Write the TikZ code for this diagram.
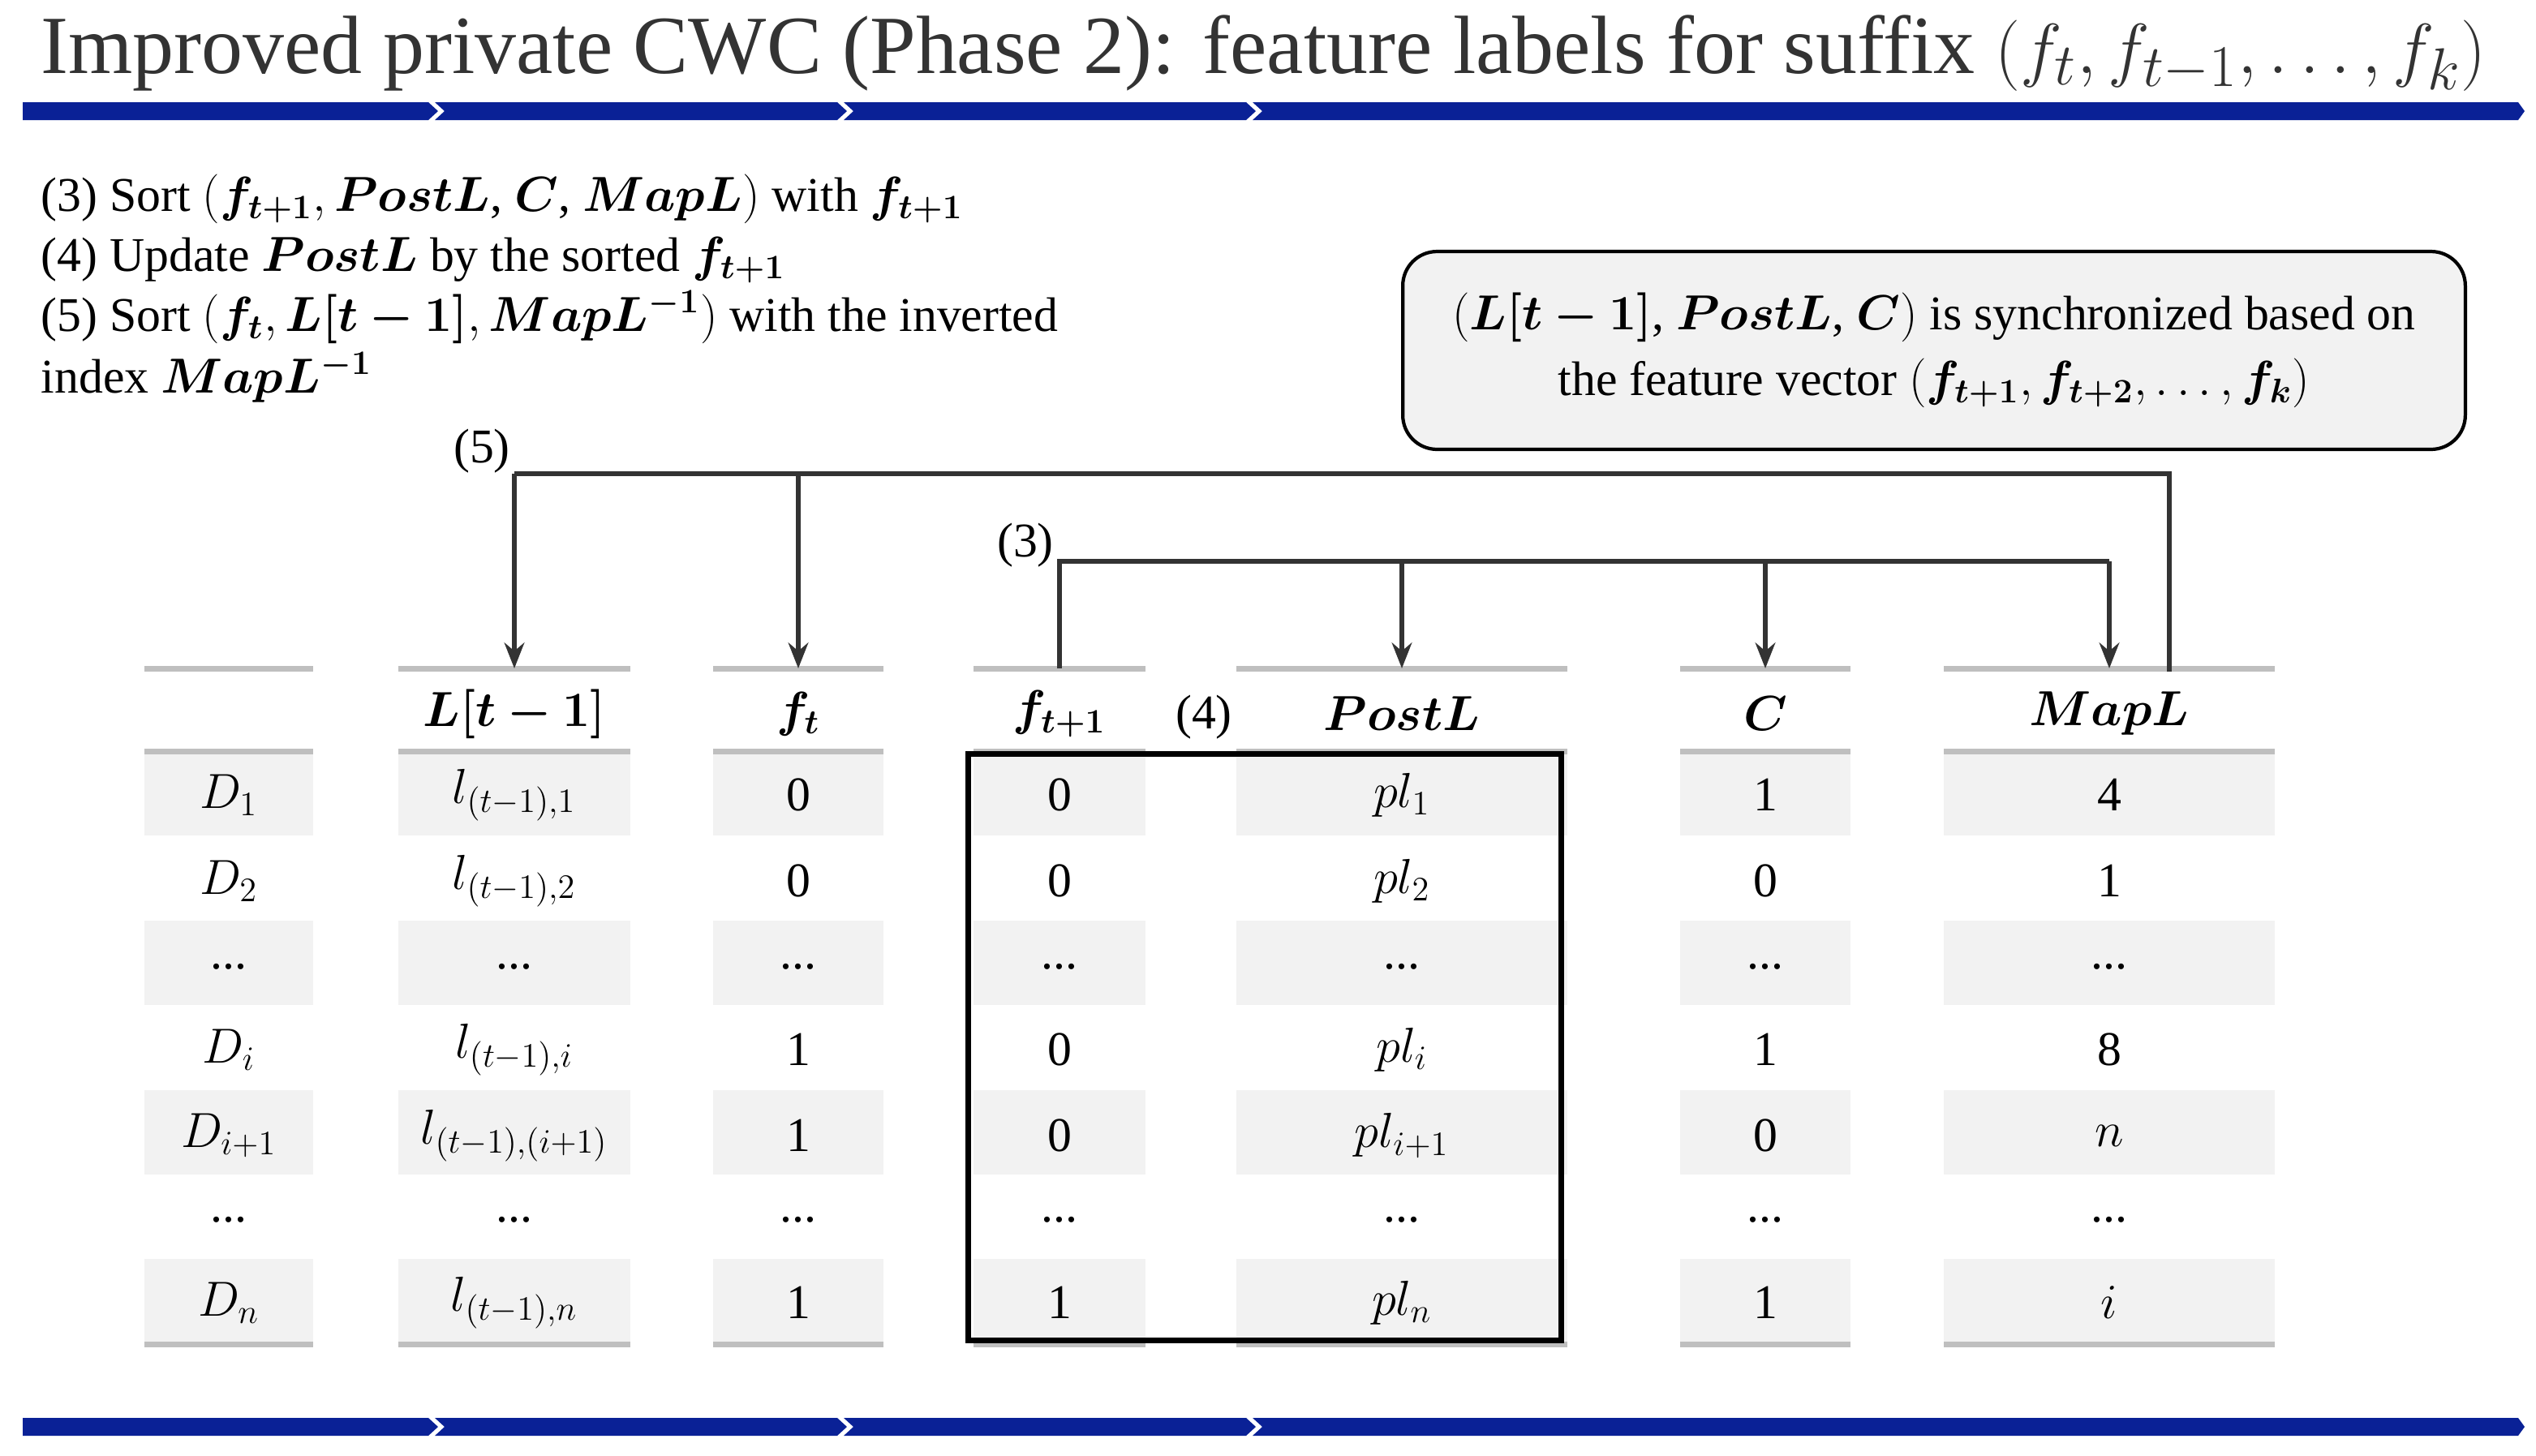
\documentclass[tikz,border=0pt]{standalone}
\usepackage{amsmath,bm}
\usepackage{fontspec}
\setmainfont{Liberation Serif}
\usetikzlibrary{arrows.meta}
\definecolor{navy}{HTML}{0A2196}
\definecolor{cellg}{HTML}{F2F2F2}
\definecolor{rule}{HTML}{BFBFBF}
\definecolor{conn}{HTML}{333333}
\begin{document}
\begin{tikzpicture}[x=0.02cm,y=-0.02cm,
  txt/.style={font=\fontsize{17}{21}\selectfont,inner sep=0pt},
  cell/.style={txt,anchor=center},
  conline/.style={draw=conn,line width=1.7pt},
  arr/.style={conline,-{Stealth[length=9pt,width=7pt]}},
  bar/.style={fill=navy}]
\useasboundingbox (0,0) rectangle (1563,897);
% title
\node[anchor=base west,inner sep=0pt,font=\fontsize{29}{34}\selectfont,text=black!80] (title) at (25,45) {Improved private CWC (Phase 2): feature labels for suffix $(f_t,f_{t-1},\dots,f_k)$};
% bars
\foreach \yt/\yb in {63/74,874/885}{
  \fill[bar] (14,\yt) -- (264,\yt) -- (270,{(\yt+\yb)/2}) -- (264,\yb) -- (14,\yb) -- cycle;
  \fill[bar] (268,\yt) -- (516,\yt) -- (522,{(\yt+\yb)/2}) -- (516,\yb) -- (268,\yb) -- (274,{(\yt+\yb)/2}) -- cycle;
  \fill[bar] (520,\yt) -- (768,\yt) -- (774,{(\yt+\yb)/2}) -- (768,\yb) -- (520,\yb) -- (526,{(\yt+\yb)/2}) -- cycle;
  \fill[bar] (772,\yt) -- (1552,\yt) -- (1556,{(\yt+\yb)/2}) -- (1552,\yb) -- (772,\yb) -- (778,{(\yt+\yb)/2}) -- cycle;
}
% steps text
\node[txt,anchor=base west] (s3) at (25,130) {(3) Sort $(\bm{f_{t+1}},\bm{PostL}$, $\bm{C}$, $\bm{MapL})$ with $\bm{f_{t+1}}$};
\node[txt,anchor=base west] (s4) at (25,167) {(4) Update $\bm{PostL}$ by the sorted $\bm{f_{t+1}}$};
\node[txt,anchor=base west] (s5) at (25,204) {(5) Sort $(\bm{f_t},\bm{L[t-1]},\bm{MapL^{-1}})$ with the inverted};
\node[txt,anchor=base west] (s5b) at (25,242) {index $\bm{MapL^{-1}}$};
% sync box
\node[txt,draw=black,line width=1.2pt,fill=cellg,rounded corners=12pt,align=center,
  minimum width=13.1cm,minimum height=2.44cm] (sync) at (1192,216)
  {$(\bm{L[t-1]}$, $\bm{PostL}$, $\bm{C})$ is synchronized based on\\[2pt] the feature vector $(\bm{f_{t+1}},\bm{f_{t+2}},\dots,\bm{f_k})$};
% table
\foreach \cx/\w/\nm in {141/104/cD,317/143/cL,492/105/cF,653/106/cG,864/204/cP,1088/105/cC,1300/204/cM}{
  \foreach \r in {1,3,5,7}{
    \pgfmathsetmacro\yt{463+(\r-1)*52.2}
    \fill[cellg] (\cx-\w/2,\yt) rectangle (\cx+\w/2,\yt+52.2);
  }
  \draw[rule,line width=2pt] (\cx-\w/2,412) -- (\cx+\w/2,412);
  \draw[rule,line width=2pt] (\cx-\w/2,463) -- (\cx+\w/2,463);
  \draw[rule,line width=2pt] (\cx-\w/2,828.5) -- (\cx+\w/2,828.5);
  \coordinate (\nm top) at (\cx,412);
}
\foreach \cx/\b/\h/\ra/\rb/\rc/\rd/\re/\rf/\rg in {
 141/D/{}/{$D_1$}/{$D_2$}/{...}/{$D_i$}/{$D_{i+1}$}/{...}/{$D_n$},
 317/L/{$\bm{L[t-1]}$}/{$l_{(t-1),1}$}/{$l_{(t-1),2}$}/{...}/{$l_{(t-1),i}$}/{$l_{(t-1),(i+1)}$}/{...}/{$l_{(t-1),n}$},
 492/F/{$\bm{f_t}$}/0/0/{...}/1/1/{...}/1,
 653/G/{$\bm{f_{t+1}}$}/0/0/{...}/0/0/{...}/1,
 864/P/{$\bm{PostL}$}/{$pl_1$}/{$pl_2$}/{...}/{$pl_i$}/{$pl_{i+1}$}/{...}/{$pl_n$},
 1088/C/{$\bm{C}$}/1/0/{...}/1/0/{...}/1,
 1300/M/{$\bm{MapL}$}/4/1/{...}/8/{$n$}/{...}/{$i$}}{
  \node[cell] (\b h) at (\cx,440) {\h};
  \node[cell] (\b 1) at (\cx,490) {\ra};
  \node[cell] (\b 2) at (\cx,543) {\rb};
  \node[cell] (\b 3) at (\cx,596) {\rc};
  \node[cell] (\b 4) at (\cx,647) {\rd};
  \node[cell] (\b 5) at (\cx,700) {\re};
  \node[cell] (\b 6) at (\cx,752) {\rf};
  \node[cell] (\b 7) at (\cx,803) {\rg};
}
% black box
\node[draw=black,line width=2pt,minimum width=369*0.02cm-2pt,minimum height=365*0.02cm-2pt,anchor=north west,inner sep=0pt] (blk) at (595,463) {};
% labels
\node[txt] (l5) at (297,278) {(5)};
\node[txt] (l3) at (632,336) {(3)};
\node[txt] (l4) at (742,442) {(4)};
% connectors (5)
\coordinate (j5) at (317,292);
\coordinate (k5) at (1337,292);
\coordinate (e5) at (1337,414);
\draw[conline] (j5) -- (k5) -- (e5);
\draw[arr] (j5) -- (cLtop);
\draw[arr] (cFtop |- j5) -- (cFtop);
% connectors (3)
\coordinate (j3) at (653,346);
\draw[conline] (cGtop) -- (j3) -- (cMtop |- j3);
\draw[arr] (cPtop |- j3) -- (cPtop);
\draw[arr] (cCtop |- j3) -- (cCtop);
\draw[arr] (cMtop |- j3) -- (cMtop);
\end{tikzpicture}
\end{document}
